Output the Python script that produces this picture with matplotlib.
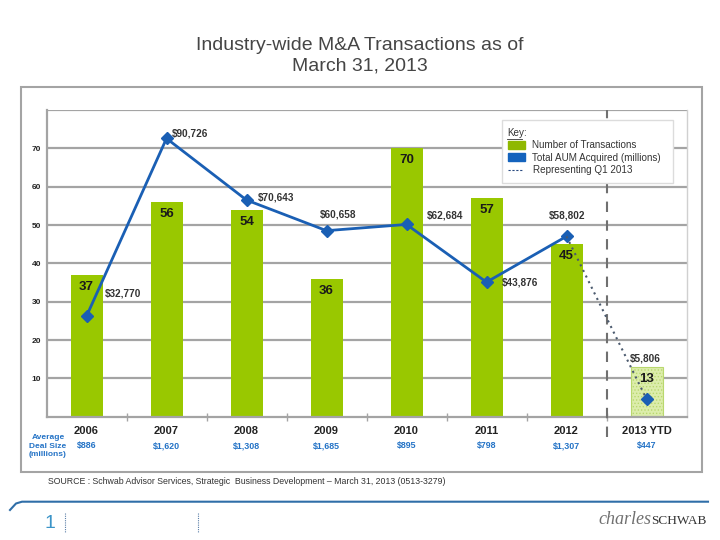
import matplotlib
matplotlib.use('Agg')
import numpy as np
import matplotlib.pyplot as plt
from matplotlib.patches import Rectangle
from matplotlib.lines import Line2D

plt.rcParams['font.family'] = ['Liberation Sans', 'DejaVu Sans']
plt.rcParams['hatch.linewidth'] = 0.6

############################
#  DATA
############################

years = ['2006', '2007', '2008', '2009', '2010', '2011', '2012', '2013 YTD']
transactions = [37, 56, 54, 36, 70, 57, 45, 13]
aum = [32770, 90726, 70643, 60658, 62684, 43876, 58802, 5806]   # [millions]
aum_labels = ['$32,770', '$90,726', '$70,643', '$60,658', '$62,684',
              '$43,876', '$58,802', '$5,806']
deal_size = ['$886', '$1,620', '$1,308', '$1,685', '$895', '$798',
             '$1,307', '$447']

############################
#  STYLE
############################

W, H = 720, 540
GREEN = '#99c800'
BLUE = '#1a5fb4'
GRID = '#a4a4a4'
# label offsets in pixels from each AUM marker (dx, dy)
aum_off = [(18, 23), (5, 5), (11, 3), (-7, 16), (20, 9), (15, 0), (-18, 21), (-17, 40)]


def fx(x):
    return x / W


def fy(y):
    return 1 - y / H


fig = plt.figure(figsize=(W / 100, H / 100), dpi=100)

# outer frame
fig.patches.append(Rectangle((fx(21), fy(472)), fx(702) - fx(21), fy(87) - fy(472),
                             transform=fig.transFigure, fill=False,
                             edgecolor=GRID, lw=1.5))

ax = fig.add_axes([fx(46.5), fy(416.7), 640 / W, 306.7 / H])
x = np.arange(len(years))

colors = [GREEN] * (len(years) - 1) + ['#dcedab']
bars = ax.bar(x, transactions, width=0.4, color=colors, zorder=2)
bars[-1].set_hatch('.....')
bars[-1].set_edgecolor('#b9d86e')
bars[-1].set_linewidth(0.8)

for xi, v in zip(x, transactions):
    ax.annotate(str(v), (xi, v), xytext=(0, -12), textcoords='offset pixels',
                ha='center', va='center', fontsize=9.5, fontweight='bold',
                color='#1a1a1a', zorder=3)

ax.set_xlim(-0.5, len(years) - 0.5)
ax.set_ylim(0, 80)
ax.set_yticks(np.arange(10, 81, 10))
ax.set_yticklabels([str(v) for v in range(10, 71, 10)] + [''])
ax.yaxis.grid(True, color=GRID, lw=1.6)
ax.set_axisbelow(True)
ax.tick_params(axis='y', length=0, pad=4, labelsize=6, labelcolor='#222222')
for t in ax.get_yticklabels():
    t.set_fontweight('bold')

ax.set_xticks(x)
ax.set_xticklabels(years, fontsize=8, fontweight='bold', color='#222222')
ax.set_xticks(np.arange(0.5, len(years) - 0.5, 1), minor=True)
ax.tick_params(axis='x', which='major', length=0, pad=7)
ax.tick_params(axis='x', which='minor', direction='inout', length=6,
               color=GRID, width=1)

for s in ['left', 'bottom']:
    ax.spines[s].set_color(GRID)
    ax.spines[s].set_linewidth(1.6)
ax.spines['top'].set_visible(False)
ax.spines['right'].set_color('#d0d0d0')
ax.spines['right'].set_linewidth(1)

# deal size row
for xi, d in zip(x, deal_size):
    ax.text(xi, -0.095, d, transform=ax.get_xaxis_transform(), ha='center',
            va='center', fontsize=6.4, fontweight='bold', color='#2473c6')
fig.text(fx(48), fy(446), 'Average\nDeal Size\n(millions)', ha='center',
         va='center', fontsize=6, fontweight='bold', color='#2473c6',
         linespacing=1.3)

# Q1 2013 separator
ax.axvline(len(years) - 1.5, ymin=-0.066, ymax=1.0, color='#707070', lw=1.5,
           dashes=(5, 4), clip_on=False, zorder=4)

############################
#  AUM LINE (secondary scale)
############################

ax2 = ax.twinx()
ax2.set_ylim(0, 100000)
ax2.set_axis_off()
ax2.plot(x[:-1], aum[:-1], color=BLUE, lw=2, marker='D', ms=6,
         markerfacecolor=BLUE, markeredgecolor=BLUE, zorder=3)
ax2.plot(x[-2:], aum[-2:], color='#4b5a6e', lw=1.5, ls=(0, (1, 2)), zorder=3)
ax2.plot(x[-1], aum[-1], ls='none', marker='D', ms=6, color=BLUE, zorder=4)

for xi, v, lab, (dx, dy) in zip(x, aum, aum_labels, aum_off):
    ax2.annotate(lab, (xi, v), xytext=(dx, dy), textcoords='offset pixels',
                 ha='left', va='center', fontsize=7.2, fontweight='bold',
                 color='#333333')

############################
#  KEY
############################

fig.patches.append(Rectangle((fx(502), fy(183)), fx(673) - fx(502), fy(120) - fy(183),
                             transform=fig.transFigure, facecolor='white',
                             edgecolor='#dcdcdc', lw=1))
fig.text(fx(507), fy(133.5), 'Key:', fontsize=7.1, color='#333333', va='center')
fig.lines.append(Line2D([fx(507), fx(522)], [fy(138.5), fy(138.5)],
                        transform=fig.transFigure, color='#333333', lw=0.6))
fig.patches.append(Rectangle((fx(508), fy(149)), 17 / W, 8 / H,
                             transform=fig.transFigure, color='#8fb800'))
fig.patches.append(Rectangle((fx(508), fy(161)), 17 / W, 8 / H,
                             transform=fig.transFigure, color='#1463bd'))
fig.lines.append(Line2D([fx(508), fx(522)], [fy(170), fy(170)],
                        transform=fig.transFigure, color='#2a4a80', lw=0.8,
                        dashes=(2, 1.5)))
fig.text(fx(531.5), fy(145), 'Number of Transactions', fontsize=7.1,
         color='#333333', va='center')
fig.text(fx(531.5), fy(157.5), 'Total AUM Acquired (millions)', fontsize=7.1,
         color='#333333', va='center')
fig.text(fx(533), fy(170), 'Representing Q1 2013', fontsize=7.1,
         color='#333333', va='center')

############################
#  TITLE / FOOTER
############################

fig.text(0.5, fy(56), 'Industry-wide M&A Transactions as of\nMarch 31, 2013',
         ha='center', va='center', fontsize=14, color='#454545',
         linespacing=1.3)
fig.text(fx(48), fy(482), 'SOURCE : Schwab Advisor Services, Strategic  Business '
         'Development \u2013 March 31, 2013 (0513-3279)', fontsize=6.3,
         color='#333333', va='center')

fig.lines.append(Line2D([fx(10), fx(16), fx(22), fx(708)],
                        [fy(510), fy(503.5), fy(501.7), fy(501.7)],
                        transform=fig.transFigure, color='#2f6ea8', lw=1.5))
fig.text(fx(50), fy(523), '1', fontsize=14, color='#3b94c8', ha='center',
         va='center')
for px in [65, 198]:
    fig.lines.append(Line2D([fx(px), fx(px)], [fy(513), fy(532)],
                            transform=fig.transFigure, color='#5a7fa8', lw=0.8,
                            ls=(0, (1, 1))))
fig.text(fx(651), fy(519), 'charles', fontsize=13, family='Liberation Serif',
         style='italic', color='#707070', ha='right', va='center')
fig.text(fx(651), fy(520.5), 'SCHWAB', fontsize=9.5, family='Liberation Serif',
         color='#333333', ha='left', va='center')

fig.savefig('out.png', dpi=100)
